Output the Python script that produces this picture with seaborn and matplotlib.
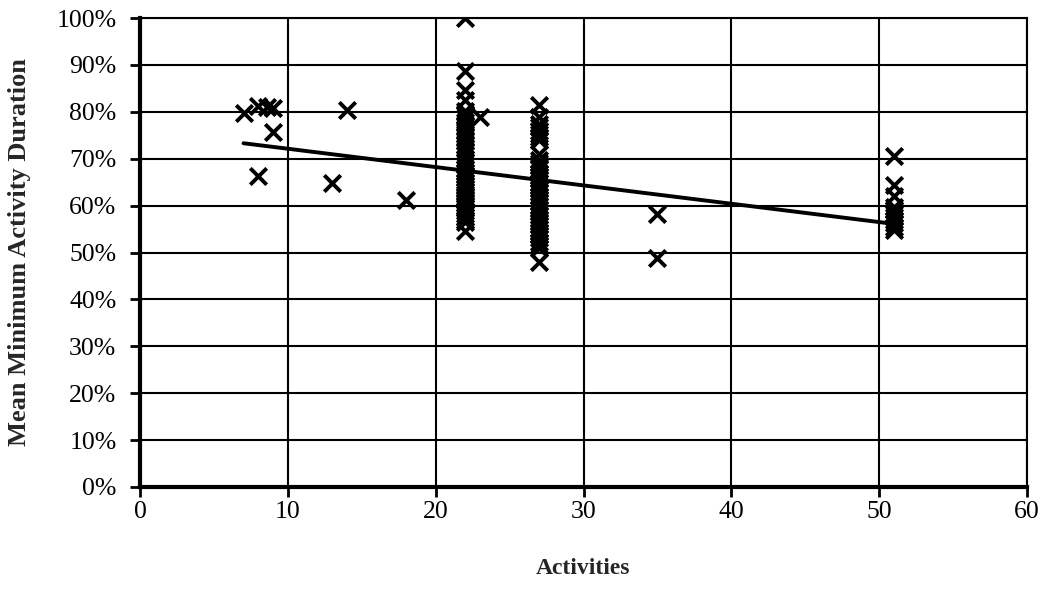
import matplotlib
matplotlib.use("Agg")
import matplotlib.pyplot as plt
import seaborn as sns
import pandas as pd
from matplotlib.ticker import PercentFormatter

# ---- data ----
x_scatter = [7, 8, 8.6, 9, 9, 8, 13, 14, 18, 23, 35, 35]
y_scatter = [79.7, 81.2, 81.0, 80.8, 75.8, 66.4, 64.8, 80.4, 61.3, 78.8, 58.2, 48.8]

y_at_22 = [100.0, 88.6, 84.6, 82.5, 80.2, 79.4, 78.6, 77.9, 77.0, 76.1, 75.3, 74.6,
           73.8, 73.0, 72.2, 71.5, 70.7, 70.0, 69.3, 68.6, 67.9, 67.2, 66.5, 65.8,
           65.1, 64.5, 63.8, 63.2, 62.5, 61.9, 61.3, 60.6, 60.0, 59.4, 58.8, 58.2,
           57.6, 57.0, 56.4, 54.6]
y_at_27 = [81.4, 79.0, 77.4, 76.7, 76.0, 75.3, 74.6, 74.0, 71.1, 69.8, 69.1, 68.4,
           67.7, 67.0, 66.3, 65.6, 64.9, 64.2, 63.5, 62.8, 62.1, 61.4, 60.7, 60.0,
           59.3, 58.6, 57.9, 57.2, 56.5, 55.8, 55.1, 54.4, 53.7, 53.0, 52.3, 51.6,
           51.0, 47.9]
y_at_51 = [70.5, 64.4, 62.0, 59.8, 59.0, 58.3, 57.6, 56.9, 56.2, 55.5, 54.8]

trend_x = [7, 51]
trend_y = [73.3, 56.1]

x_ticks = [0, 10, 20, 30, 40, 50, 60]
y_ticks = [0, 10, 20, 30, 40, 50, 60, 70, 80, 90, 100]

# ---- assemble ----
xs = list(x_scatter) + [22] * len(y_at_22) + [27] * len(y_at_27) + [51] * len(y_at_51)
ys = list(y_scatter) + y_at_22 + y_at_27 + y_at_51
df = pd.DataFrame({"Activities": xs, "Duration": ys})
tdf = pd.DataFrame({"Activities": trend_x, "Duration": trend_y})

sns.set_style("white")
plt.rcParams["font.family"] = ["Liberation Serif", "DejaVu Serif"]

fig = plt.figure(figsize=(10.49, 5.91), dpi=100)
ax = fig.add_axes([0.1335, 0.176, 0.8455, 0.7935])

ax.set_xlim(0, 60)
ax.set_ylim(0, 100)
ax.set_xticks(x_ticks)
ax.set_yticks(y_ticks)
ax.grid(True, color="black", linewidth=1.5)
ax.set_axisbelow(True)

sns.scatterplot(data=df, x="Activities", y="Duration", marker="x", color="black",
                s=140, linewidth=2.8, ax=ax, zorder=3)
sns.lineplot(data=tdf, x="Activities", y="Duration", color="black", linewidth=2.8,
             ax=ax, zorder=4)

ax.yaxis.set_major_formatter(PercentFormatter(xmax=100, decimals=0))

for side in ["left", "bottom"]:
    ax.spines[side].set_linewidth(3.0)
    ax.spines[side].set_color("black")
for side in ["right", "top"]:
    ax.spines[side].set_linewidth(1.5)
    ax.spines[side].set_color("black")

ax.tick_params(axis="both", direction="out", length=7, width=2.0, color="black",
               labelsize=18.5, labelcolor="black")
ax.tick_params(axis="x", pad=3)
ax.tick_params(axis="y", pad=10)
ax.tick_params(left=True, bottom=True)

ax.set_xlabel("Activities", fontsize=17, fontweight="bold", labelpad=25)
ax.set_ylabel("Mean Minimum Activity Duration", fontsize=19, fontweight="bold", labelpad=18)

fig.savefig("out.png", dpi=100, facecolor="white")
